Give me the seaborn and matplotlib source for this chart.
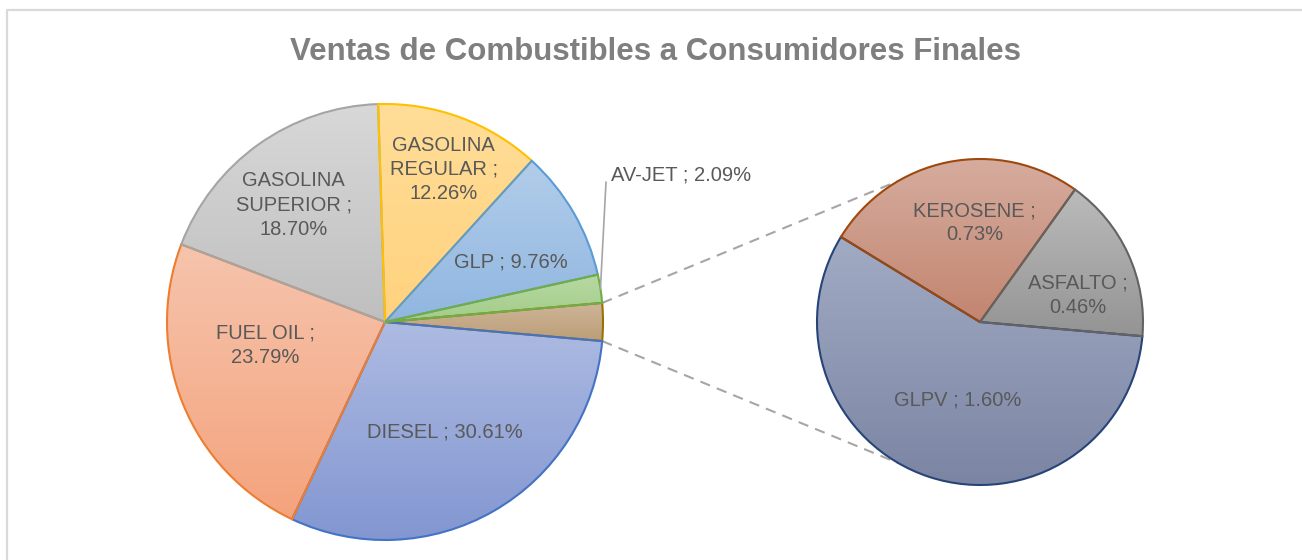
import numpy as np
import matplotlib.pyplot as plt
import seaborn as sns
from matplotlib import font_manager
from matplotlib.colors import LinearSegmentedColormap

# datos
main_labels = ["DIESEL", "FUEL OIL", "GASOLINA SUPERIOR", "GASOLINA REGULAR", "GLP", "AV-JET"]
main_values = [30.61, 23.79, 18.70, 12.26, 9.76, 2.09]
sub_labels = ["GLPV", "KEROSENE", "ASFALTO"]
sub_values = [1.60, 0.73, 0.46]

main_text = ["DIESEL ; 30.61%", "FUEL OIL ;\n23.79%", "GASOLINA\nSUPERIOR ;\n18.70%",
             "GASOLINA\nREGULAR ;\n12.26%", "GLP ; 9.76%", "AV-JET ; 2.09%"]
sub_text = ["GLPV ; 1.60%", "KEROSENE ;\n0.73%", "ASFALTO ;\n0.46%"]

# colores: (borde, claro, oscuro)
main_colors = [("#4472C4", "#ADBBE2", "#8296D1"), ("#ED7D31", "#F6C4AD", "#F4A37C"),
               ("#A5A5A5", "#D8D8D8", "#BFBFBF"), ("#FFC000", "#FFDD98", "#FFD27E"),
               ("#5B9BD5", "#B2CDEA", "#90B6E0"), ("#70AD47", "#B7D9A2", "#A2CC88")]
other_color = ("#997300", "#CEB698", "#BC9D78")
sub_colors = [("#264478", "#A2ABC4", "#7B85A3"), ("#9E480E", "#D6AC9E", "#C28570"),
              ("#636363", "#BBBBBB", "#949494")]

names = {f.name for f in font_manager.fontManager.ttflist}
font = "Liberation Sans Narrow" if "Liberation Sans Narrow" in names else "Liberation Sans"

sns.set_theme(style="white")
plt.rcParams["font.family"] = [font, "DejaVu Sans"]
txt_color = "#595959"
lab_size = 14.5

fig = plt.figure(figsize=(13.02, 5.6), dpi=100)
ax = fig.add_axes([0, 0, 1, 1])

H = 560
c_main, r_main = (385, H - 322), 218
c_sub, r_sub = (980, H - 322), 163

other = sum(sub_values)
vals = [other] + main_values
cols = [other_color] + main_colors
wedges_main, _ = ax.pie(vals, center=c_main, radius=r_main, counterclock=False,
                        startangle=other / 100 * 360 / 2,
                        wedgeprops=dict(linewidth=1.5))
wedges_sub, _ = ax.pie(sub_values, center=c_sub, radius=r_sub, counterclock=False,
                       startangle=-5, wedgeprops=dict(linewidth=1.5))


def fill_gradient(w, col):
    edge, light, dark = col
    w.set_facecolor("none")
    w.set_edgecolor(edge)
    w.set_zorder(3)
    bb = w.get_path().get_extents()
    cmap = LinearSegmentedColormap.from_list("g", [dark, light])
    grad = np.linspace(0, 1, 256).reshape(-1, 1)
    im = ax.imshow(grad, extent=[bb.x0, bb.x1, bb.y0, bb.y1], origin="lower",
                   cmap=cmap, aspect="auto", zorder=2)
    im.set_clip_path(w)


for w, col in zip(wedges_main, cols):
    fill_gradient(w, col)
for w, col in zip(wedges_sub, sub_colors):
    fill_gradient(w, col)

# etiquetas (fraccion del radio, angulo)
main_pos = [(0.575, -61.4), (0.56, 190.8), (0.68, 128), (0.75, 69), (0.64, 25.6)]
sub_pos = [(0.50, 254), (0.61, 93), (0.62, 15.4)]
for t, (f, a) in zip(main_text[:5], main_pos):
    ax.text(c_main[0] + f * r_main * np.cos(np.radians(a)),
            c_main[1] + f * r_main * np.sin(np.radians(a)), t,
            ha="center", va="center", fontsize=lab_size, color=txt_color,
            linespacing=1.35, zorder=5)
for t, (f, a) in zip(sub_text, sub_pos):
    ax.text(c_sub[0] + f * r_sub * np.cos(np.radians(a)),
            c_sub[1] + f * r_sub * np.sin(np.radians(a)), t,
            ha="center", va="center", fontsize=lab_size, color=txt_color,
            linespacing=1.35, zorder=5)

# AV-JET con linea guia
wj = wedges_main[-1]
aj = np.radians((wj.theta1 + wj.theta2) / 2)
px, py = c_main[0] + r_main * np.cos(aj), c_main[1] + r_main * np.sin(aj)
ax.plot([px, 606], [py, H - 182], color="#A6A6A6", lw=1.2, zorder=4)
ax.text(611, H - 175, main_text[-1], ha="left", va="center", fontsize=lab_size,
        color=txt_color, zorder=5)

# lineas de conexion
wo = wedges_main[0]
for ang_m, ang_s in [(wo.theta2, 120), (wo.theta1, 240)]:
    x0 = c_main[0] + r_main * np.cos(np.radians(ang_m))
    y0 = c_main[1] + r_main * np.sin(np.radians(ang_m))
    x1 = c_sub[0] + r_sub * np.cos(np.radians(ang_s))
    y1 = c_sub[1] + r_sub * np.sin(np.radians(ang_s))
    ax.plot([x0, x1], [y0, y1], color="#A6A6A6", lw=1.5, ls=(0, (5, 3.5)), zorder=1)

ax.text(655, H - 52, "Ventas de Combustibles a Consumidores Finales", ha="center",
        va="center", fontsize=22.5, fontweight="bold", color="#7F7F7F")

# marco del grafico
ax.plot([7, 7, 1302], [0, H - 9.5, H - 9.5], color="#D9D9D9", lw=1.6, zorder=0)

ax.set_xlim(0, 1302)
ax.set_ylim(0, H)
ax.set_aspect("equal")
ax.axis("off")
fig.savefig("out.png", dpi=100)
